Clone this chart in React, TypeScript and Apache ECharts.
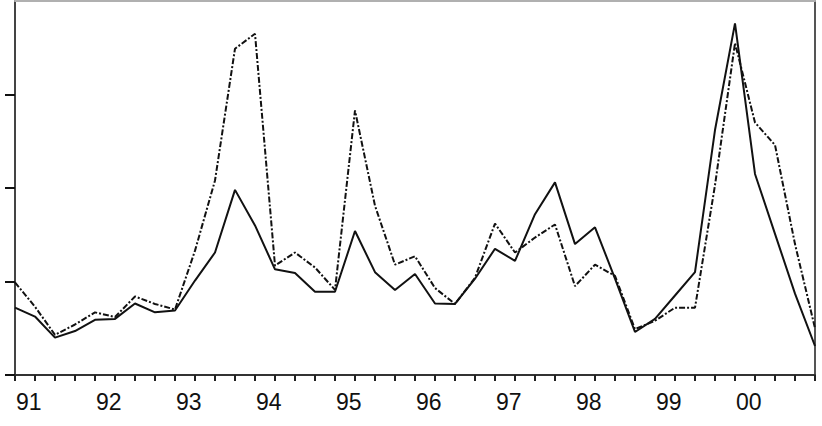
import React, { useEffect, useRef } from "react";
import * as echarts from "echarts";

// Quarterly observations, 1991Q1 .. 2001Q1 (41 points)
const yearLabels = ["91", "92", "93", "94", "95", "96", "97", "98", "99", "00"];

const solidValues = [
  0.72, 0.625, 0.4, 0.47, 0.59, 0.6, 0.765, 0.67, 0.69, 1.01,
  1.31, 1.98, 1.6, 1.13, 1.09, 0.89, 0.89, 1.54, 1.1, 0.91,
  1.08, 0.765, 0.76, 1.03, 1.35, 1.22, 1.72, 2.06, 1.4, 1.58,
  1.03, 0.46, 0.6, 0.85, 1.1, 2.62, 3.76, 2.15, 1.51, 0.87,
  0.31,
];

const dashedValues = [
  0.99, 0.73, 0.43, 0.54, 0.67, 0.62, 0.84, 0.76, 0.7, 1.33,
  2.08, 3.49, 3.65, 1.17, 1.31, 1.15, 0.91, 2.83, 1.81, 1.18,
  1.27, 0.93, 0.76, 1.04, 1.62, 1.31, 1.47, 1.61, 0.95, 1.18,
  1.06, 0.49, 0.58, 0.72, 0.72, 2.03, 3.55, 2.7, 2.46, 1.4,
  0.5,
];

const yTicks = [0, 1, 2, 3];

export default function App() {
  const ref = useRef<HTMLDivElement>(null);

  useEffect(() => {
    if (!ref.current) return;
    const chart = echarts.init(ref.current, null, { renderer: "svg" });
    const toPairs = (arr: number[]) => arr.map((v, i) => [i, v]);
    chart.setOption({
      animation: false,
      backgroundColor: "#ffffff",
      grid: { left: 15, right: 7, top: 1, bottom: 51, show: false },
      xAxis: [
        {
          type: "value",
          min: 0,
          max: 40,
          interval: 1,
          position: "bottom",
          axisLine: { show: true, onZero: false, lineStyle: { color: "#333", width: 2 } },
          axisTick: { show: true, inside: false, length: 6, lineStyle: { color: "#222", width: 2 } },
          axisLabel: {
            show: true,
            align: "left",
            margin: 15,
            fontFamily: "Liberation Sans, Arial, sans-serif",
            fontSize: 23,
            color: "#111",
            padding: [0, 0, 0, 1],
            showMaxLabel: true,
            showMinLabel: true,
            formatter: (v: number) =>
              v % 4 === 0 && v / 4 < yearLabels.length ? yearLabels[v / 4] : "",
          },
          splitLine: { show: false },
        },
        {
          type: "value",
          min: 0,
          max: 40,
          position: "top",
          axisLine: { show: true, onZero: false, lineStyle: { color: "#b0b0b0", width: 2 } },
          axisTick: { show: false },
          axisLabel: { show: false },
          splitLine: { show: false },
        },
      ],
      yAxis: [
        {
          type: "value",
          min: 0,
          max: 4,
          interval: 1,
          position: "left",
          axisLine: { show: true, onZero: false, lineStyle: { color: "#444", width: 2 } },
          axisTick: {
            show: true,
            inside: false,
            length: 10,
            customValues: yTicks,
            lineStyle: { color: "#111", width: 2 },
          },
          axisLabel: { show: false },
          splitLine: { show: false },
        },
        {
          type: "value",
          min: 0,
          max: 4,
          position: "right",
          axisLine: { show: true, onZero: false, lineStyle: { color: "#555", width: 2 } },
          axisTick: { show: false },
          axisLabel: { show: false },
          splitLine: { show: false },
        },
      ],
      series: [
        {
          type: "line",
          data: toPairs(dashedValues),
          showSymbol: false,
          symbol: "none",
          lineStyle: { color: "#111", width: 2, type: [6, 2, 2, 2] },
          z: 2,
        },
        {
          type: "line",
          data: toPairs(solidValues),
          showSymbol: false,
          symbol: "none",
          lineStyle: { color: "#111", width: 2 },
          z: 3,
        },
      ],
    });
    return () => chart.dispose();
  }, []);

  return (
    <div
      ref={ref}
      style={{ position: "absolute", left: 0, top: 0, width: 822, height: 426 }}
    />
  );
}
